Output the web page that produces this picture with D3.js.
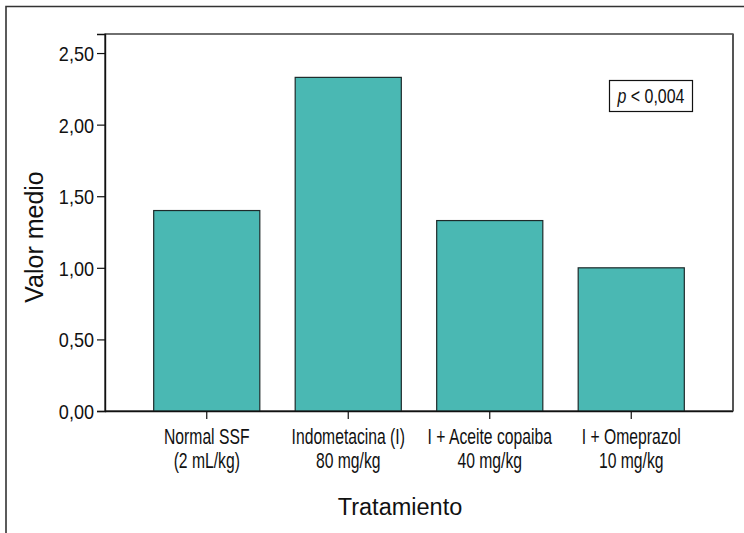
<!DOCTYPE html>
<html>
<head>
<meta charset="utf-8">
<script src="https://cdn.jsdelivr.net/npm/d3@7/dist/d3.min.js"></script>
<style>
  html, body { margin: 0; padding: 0; background: #fff; }
  svg { display: block; font-family: "Liberation Sans", Arial, sans-serif; }
</style>
</head>
<body>
<svg id="chart" width="744" height="533"></svg>
<script>
// Treatment groups (two label lines each) and their mean values
const categories = ["Normal SSF", "Indometacina (I)", "I + Aceite copaiba", "I + Omeprazol"];
const categoryDoses = ["(2 mL/kg)", "80 mg/kg", "40 mg/kg", "10 mg/kg"];
const meanValues = [1.40, 2.33, 1.33, 1.00];
const yTicks = [0, 0.5, 1.0, 1.5, 2.0, 2.5];
const yMax = 2.633;
const pLabel = "< 0,004";

const svg = d3.select("#chart");
const plot = { left: 105, top: 34, right: 733, bottom: 411 };

const esLocale = d3.formatLocale({ decimal: ",", thousands: ".", grouping: [3], currency: ["", " €"] });
const fmt = esLocale.format(".2f");

// Condensed face: squeeze horizontally around the anchor point
const NARROW = 0.73;

const x = d3.scaleBand()
  .domain(categories)
  .range([plot.left + 31, plot.right - 31])
  .paddingInner(0.25)
  .paddingOuter(0.125);

const y = d3.scaleLinear()
  .domain([0, yMax])
  .range([plot.bottom, plot.top]);

// Outer frame (top and left edges only)
svg.append("path")
  .attr("d", `M6,533 V6.5 H744`)
  .attr("fill", "none")
  .attr("stroke", "#333")
  .attr("stroke-width", 1.6);

// Plot frame
svg.append("rect")
  .attr("x", plot.left).attr("y", plot.top)
  .attr("width", plot.right - plot.left).attr("height", plot.bottom - plot.top)
  .attr("fill", "#fff").attr("stroke", "#111").attr("stroke-width", 1.2);
svg.append("line")
  .attr("x1", plot.right).attr("x2", plot.right)
  .attr("y1", plot.top).attr("y2", plot.bottom)
  .attr("stroke", "#555").attr("stroke-width", 2);

// Bars
svg.append("g").selectAll("rect")
  .data(categories.map((c, i) => ({ c, v: meanValues[i] })))
  .join("rect")
  .attr("x", d => x(d.c))
  .attr("width", x.bandwidth())
  .attr("y", d => y(d.v))
  .attr("height", d => y(0) - y(d.v))
  .attr("fill", "#4ab8b3")
  .attr("stroke", "#1e2a2a")
  .attr("stroke-width", 1.2);

// Y axis
const yAxis = svg.append("g")
  .attr("transform", `translate(${plot.left},0)`)
  .call(d3.axisLeft(y).tickValues(yTicks).tickFormat(fmt).tickSize(8).tickPadding(3));
yAxis.select(".domain").attr("stroke", "#111").attr("stroke-width", 1.4);
yAxis.selectAll(".tick line").attr("stroke", "#111").attr("stroke-width", 1.2);
yAxis.selectAll(".tick text")
  .attr("font-family", "'Liberation Sans', Arial, sans-serif")
  .attr("font-size", 21)
  .attr("dy", "0.36em")
  .attr("fill", "#111")
  .each(function () {
    const len = this.getComputedTextLength();
    d3.select(this).attr("textLength", len * 0.86).attr("lengthAdjust", "spacingAndGlyphs");
  });

// X axis (ticks at bar centers, labels drawn below)
const xAxis = svg.append("g")
  .attr("transform", `translate(0,${plot.bottom})`)
  .call(d3.axisBottom(x).tickSize(8).tickFormat(""));
xAxis.select(".domain").attr("d", `M${plot.left},0.5H${plot.right}`).attr("stroke", "#111").attr("stroke-width", 1.4);
xAxis.selectAll(".tick line").attr("stroke", "#111").attr("stroke-width", 1.2);

// Category labels, two lines each
const catGroups = svg.append("g")
  .selectAll("g")
  .data(categories)
  .join("g")
  .attr("transform", d => `translate(${x(d) + x.bandwidth() / 2},444) scale(${NARROW},1)`);
catGroups.append("text")
  .attr("text-anchor", "middle")
  .attr("font-size", 21.5)
  .attr("fill", "#111")
  .text(d => d);
catGroups.append("text")
  .attr("y", 24.5)
  .attr("text-anchor", "middle")
  .attr("font-size", 21.5)
  .attr("fill", "#111")
  .text((d, i) => categoryDoses[i]);

// Axis titles
svg.append("text")
  .attr("x", 400)
  .attr("y", 515)
  .attr("text-anchor", "middle")
  .attr("font-size", 23.5)
  .attr("fill", "#111")
  .text("Tratamiento");

svg.append("text")
  .attr("transform", "translate(43,237) rotate(-90)")
  .attr("text-anchor", "middle")
  .attr("font-size", 25)
  .attr("fill", "#111")
  .text("Valor medio");

// Significance annotation
const pBox = svg.append("g").attr("transform", "translate(609,80)");
pBox.append("rect")
  .attr("x", 0.5).attr("y", 0.5)
  .attr("width", 83).attr("height", 31)
  .attr("fill", "#fff").attr("stroke", "#111").attr("stroke-width", 1.2);
const pText = pBox.append("g")
  .attr("transform", "translate(42,23) scale(0.76,1)")
  .append("text")
  .attr("text-anchor", "middle")
  .attr("font-size", 21)
  .attr("fill", "#111");
pText.append("tspan").attr("font-style", "italic").text("p");
pText.append("tspan").text(" " + pLabel);
</script>
</body>
</html>
